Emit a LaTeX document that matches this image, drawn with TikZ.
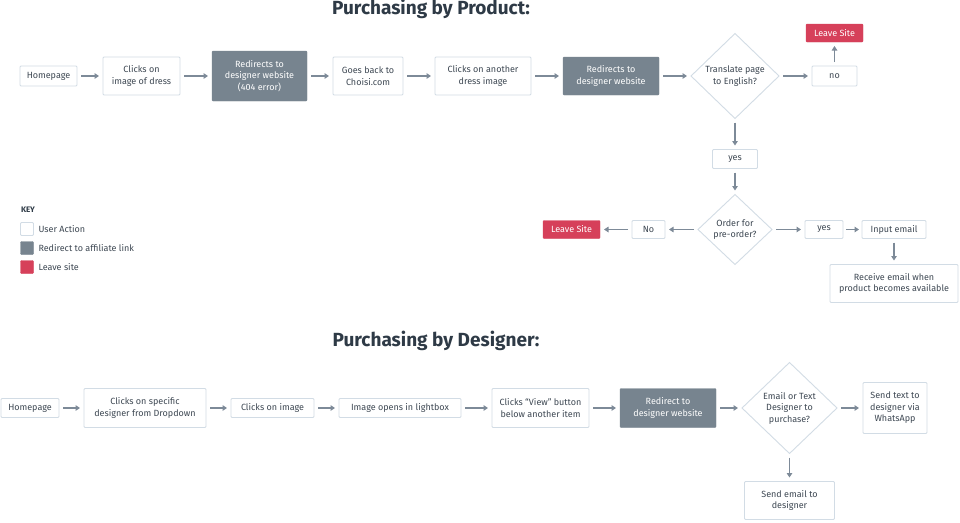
\documentclass[tikz,border=0pt]{standalone}
\usepackage{fontspec}
\setmainfont{Fira Sans}
\usepackage{xcolor}
\usetikzlibrary{arrows.meta,positioning,shapes.geometric}

\definecolor{inkgrey}{HTML}{3E4853}
\definecolor{titleink}{HTML}{2E3A46}
\definecolor{edgeline}{HTML}{D2DCE5}
\definecolor{slate}{HTML}{77848F}
\definecolor{leavered}{HTML}{D6405A}
\definecolor{arrowgrey}{HTML}{7D8A98}

\begin{document}
\begin{tikzpicture}[
  x=1pt, y=-1pt,
  >={Triangle[length=4.5pt,width=5.5pt]},
  node distance=26pt,
  every node/.style={font=\fontsize{9}{11.5}\selectfont, text=inkgrey, outer sep=0pt},
  action/.style={draw=edgeline, fill=white, line width=0.9pt, rounded corners=1pt,
    align=center, inner sep=2pt},
  redirect/.style={draw=slate, fill=slate, text=white, rounded corners=1pt,
    align=center, inner sep=2pt},
  leave/.style={draw=leavered, fill=leavered, text=white, rounded corners=1pt,
    align=center, inner sep=2pt, minimum width=57pt, minimum height=18pt},
  decision/.style={diamond, draw=edgeline, fill=white, line width=0.9pt,
    align=center, inner sep=0pt},
  flow/.style={->, line width=1.6pt, arrowgrey, shorten <=4pt, shorten >=4pt},
  heading/.style={font=\fontsize{19}{22}\selectfont\bfseries, text=titleink},
]
\fill[white] (0,0) rectangle (960,522);
\useasboundingbox (0,0) rectangle (960,522);

% Titles
\node[heading] (titleprod) at (431,9) {Purchasing by Product:};
\node[heading] (titledes) at (436,341) {Purchasing by Designer:};

% Top row -- purchasing by product
\node[action, anchor=west, minimum width=57pt, minimum height=20pt] (home1) at (20,76) {Homepage};
\node[action, right=26pt of home1, minimum width=77pt, minimum height=38pt] (dress) {Clicks on\\image of dress};
\node[redirect, right=32pt of dress, minimum width=95pt, minimum height=50pt] (redir1) {Redirects to\\designer website\\(404 error)};
\node[action, right=26pt of redir1, minimum width=70pt, minimum height=38pt] (back) {Goes back to\\Choisi.com};
\node[action, right=32pt of back, minimum width=96pt, minimum height=38pt] (another) {Clicks on another\\dress image};
\node[redirect, right=32pt of another, minimum width=96pt, minimum height=38pt] (redir2) {Redirects to\\designer website};
\node[decision, right=32pt of redir2, minimum width=88pt, minimum height=85pt] (translate) {Translate page\\to English?};
\node[action, right=33pt of translate, minimum width=45pt, minimum height=20pt] (no1) {no};
\node[leave, above=24pt of no1] (leave1) {Leave Site};

% Pre-order branch
\node[action, below=31pt of translate, minimum width=45pt, minimum height=19pt] (yes1) {yes};
\node[decision, below=26pt of yes1, minimum width=74pt, minimum height=70pt] (order) {Order for\\pre-order?};
\node[action, left=33pt of order, minimum width=33pt, minimum height=18pt] (no2) {No};
\node[leave, left=32pt of no2] (leave2) {Leave Site};
\node[action, right=33pt of order, minimum width=38pt, minimum height=18pt] (yes2) {yes};
\node[action, right=19pt of yes2, minimum width=64pt, minimum height=18pt] (input) {Input email};
\node[action, below=26pt of input, minimum width=128pt, minimum height=38pt] (receive) {Receive email when\\product becomes available};

% Key
\node[anchor=west, inner sep=0pt, font=\fontsize{8}{10}\selectfont\bfseries, text=titleink] (keytitle) at (21,210) {KEY};
\node[action, inner sep=0pt, minimum size=13pt] (keyuser) at (27,229) {};
\node[redirect, inner sep=0pt, minimum size=13pt] (keyredir) at (27,248) {};
\node[leave, inner sep=0pt, minimum width=13pt, minimum height=13pt] (keyleave) at (27,267) {};
\node[right=5pt of keyuser, inner sep=0pt] (keyuserlbl) {User Action};
\node[right=5pt of keyredir, inner sep=0pt] (keyredirlbl) {Redirect to affiliate link};
\node[right=5pt of keyleave, inner sep=0pt] (keyleavelbl) {Leave site};

% Bottom row -- purchasing by designer
\node[action, anchor=west, minimum width=58pt, minimum height=19pt] (home2) at (1,408) {Homepage};
\node[action, right=25pt of home2, minimum width=122pt, minimum height=39pt] (specific) {Clicks on specific\\designer from Dropdown};
\node[action, right=25pt of specific, minimum width=83pt, minimum height=19pt] (clickimg) {Clicks on image};
\node[action, right=25pt of clickimg, minimum width=122pt, minimum height=19pt] (lightbox) {Image opens in lightbox};
\node[action, right=31pt of lightbox, minimum width=97pt, minimum height=39pt] (view) {Clicks ``View'' button\\below another item};
\node[redirect, right=31pt of view, minimum width=96pt, minimum height=39pt] (redir3) {Redirect to\\designer website};
\node[decision, right=26pt of redir3, minimum width=95pt, minimum height=91pt] (contact) {Email or Text\\Designer to\\purchase?};
\node[action, right=26pt of contact, minimum width=64pt, minimum height=51pt] (whatsapp) {Send text to\\designer via\\WhatsApp};
\node[action, below=28pt of contact, minimum width=90pt, minimum height=38pt] (sendemail) {Send email to\\designer};

% Connectors, top
\draw[flow] (home1) -- (dress);
\draw[flow] (dress) -- (redir1);
\draw[flow] (redir1) -- (back);
\draw[flow] (back) -- (another);
\draw[flow] (another) -- (redir2);
\draw[flow] (redir2) -- (translate);
\draw[flow] (translate) -- (no1);
\draw[flow] (no1) -- (leave1);
\draw[flow] (translate) -- (yes1);
\draw[flow] (yes1) -- (order);
\draw[flow] (order) -- (no2);
\draw[flow] (no2) -- (leave2);
\draw[flow] (order) -- (yes2);
\draw[flow, shorten <=3pt, shorten >=3pt] (yes2) -- (input);
\draw[flow] (input) -- (receive);

% Connectors, bottom
\draw[flow] (home2) -- (specific);
\draw[flow] (specific) -- (clickimg);
\draw[flow] (clickimg) -- (lightbox);
\draw[flow] (lightbox) -- (view);
\draw[flow] (view) -- (redir3);
\draw[flow] (redir3) -- (contact);
\draw[flow] (contact) -- (whatsapp);
\draw[flow] (contact) -- (sendemail);
\end{tikzpicture}
\end{document}
